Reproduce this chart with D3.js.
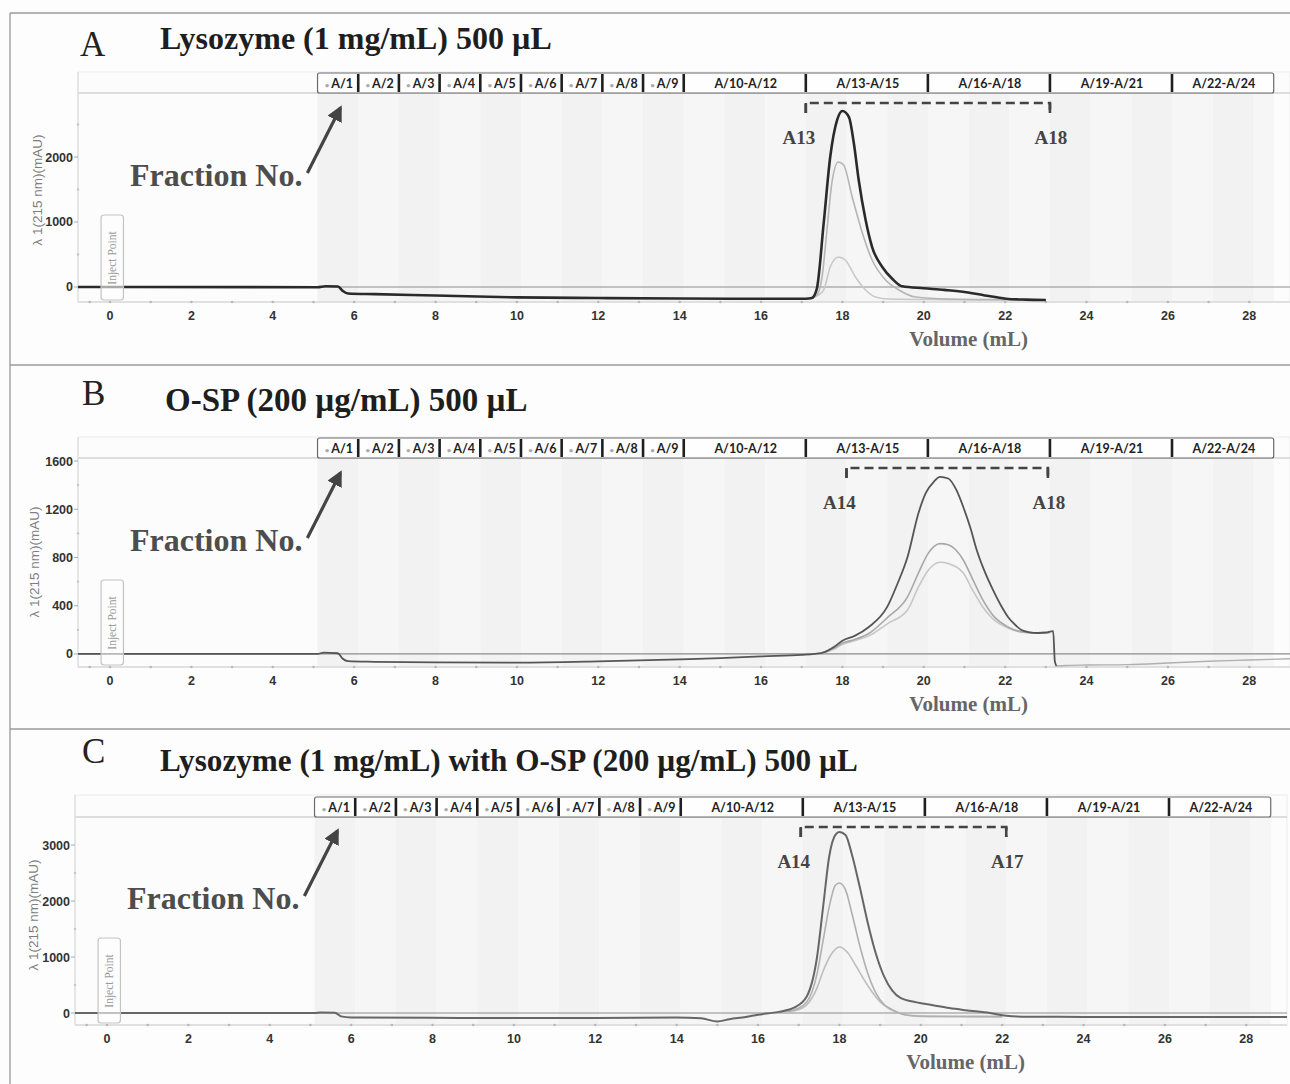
<!DOCTYPE html>
<html><head><meta charset="utf-8">
<script src="https://cdn.jsdelivr.net/npm/d3@7"></script>
<style>body{margin:0;background:#fff}svg{display:block}</style>
</head><body><svg id="c" width="1290" height="1084"></svg>
<script>
// ---------- DATA ----------
const xTicks = [0, 2, 4, 6, 8, 10, 12, 14, 16, 18, 20, 22, 24, 26, 28];
const xMinor = [-0.5, 1, 3, 5, 7, 9, 11, 13, 15, 17, 19, 21, 23, 25, 27];
const fractionLabels = ["A/1","A/2","A/3","A/4","A/5","A/6","A/7","A/8","A/9",
  "A/10-A/12","A/13-A/15","A/16-A/18","A/19-A/21","A/22-A/24"];
const fractionEdges = [5.1,6.1,7.1,8.1,9.1,10.1,11.1,12.1,13.1,14.1,17.1,20.1,23.1,26.1,28.6];
const tubeEdges = [5.1,6.1,7.1,8.1,9.1,10.1,11.1,12.1,13.1,14.1,15.1,16.1,17.1,18.1,19.1,20.1,21.1,22.1,23.1,24.1,25.1,26.1,27.1,28.1,28.6];

const titleA = "Lysozyme (1 mg/mL) 500 µL";
const titleB = "O-SP (200 µg/mL) 500 µL";
const titleC = "Lysozyme (1 mg/mL) with O-SP (200 µg/mL) 500 µL";
const yAxisLabel = "λ 1(215 nm)(mAU)";
const xAxisLabel = "Volume (mL)";
const fractionNote = "Fraction No.";
const injectLabel = "Inject Point";

const yTicksA = [0, 1000, 2000], yMinorA = [500, 1500, 2500];
const yTicksB = [0, 400, 800, 1200, 1600], yMinorB = [200, 600, 1000, 1400];
const yTicksC = [0, 1000, 2000, 3000], yMinorC = [500, 1500, 2500];

const bracketA = {from: 17.1, to: 23.1, left: "A13", right: "A18"};
const bracketB = {from: 18.1, to: 23.05, left: "A14", right: "A18"};
const bracketC = {from: 17.05, to: 22.1, left: "A14", right: "A17"};

// Panel A traces [volume mL, mAU]
const aDark = [[-0.79,0],[0.3,0],[5.1,-3],[5.3,12],[5.6,8],[5.72,-60],[5.85,-100],[6.5,-110],[8,-130],[10,-160],[12,-170],[14,-178],[16,-182],[17.1,-180],[17.25,-170],[17.37,-30],[17.54,985],[17.7,2000],[17.87,2570],[18.0,2708],[18.16,2615],[18.28,2215],[18.4,1646],[18.57,1030],[18.73,615],[18.98,308],[19.23,123],[19.47,10],[20.0,-20],[20.5,-45],[21.04,-80],[21.5,-130],[22.02,-180],[22.5,-195],[23.0,-200]];
const aMid = [[17.2,-178],[17.38,-120],[17.5,154],[17.62,877],[17.74,1600],[17.9,1923],[18.03,1877],[18.24,1385],[18.49,831],[18.73,415],[19.06,108],[19.39,-46],[19.8,-154],[20.63,-185],[22,-195],[23,-200]];
const aLight = [[17.2,-180],[17.4,-130],[17.54,-46],[17.7,308],[17.9,462],[18.07,415],[18.32,154],[18.57,-46],[18.81,-154],[19.14,-185],[20.5,-195],[22,-200]];

// Panel B traces
const bDark = [[-0.79,0],[5.1,0],[5.25,12],[5.6,6],[5.72,-40],[5.85,-60],[6.5,-65],[8,-70],[10,-72],[12,-62],[14,-45],[15,-35],[16,-20],[17,-8],[17.5,10],[17.8,60],[18.0,110],[18.3,150],[18.65,224],[19.1,390],[19.35,580],[19.6,804],[19.87,1169],[20.05,1335],[20.25,1430],[20.4,1468],[20.6,1455],[20.8,1360],[20.97,1219],[21.15,1040],[21.3,862],[21.5,680],[21.7,531],[21.9,400],[22.07,307],[22.25,240],[22.4,199],[22.6,180],[22.8,174],[23.0,178],[23.18,190],[23.22,-60],[23.26,-100]];
const bMid = [[17.5,10],[17.8,50],[18.0,90],[18.3,120],[18.65,170],[19.1,300],[19.6,473],[19.87,672],[20.1,830],[20.4,915],[20.6,905],[20.97,779],[21.2,620],[21.45,448],[21.7,320],[22.07,224],[22.4,185],[22.8,174],[23.1,178]];
const bLight = [[17.5,5],[17.8,40],[18.0,80],[18.3,110],[18.65,150],[19.1,250],[19.6,365],[19.87,556],[20.1,690],[20.4,760],[20.6,750],[20.97,672],[21.2,530],[21.45,390],[21.7,290],[22.07,216],[22.4,180],[22.8,172],[23.1,176]];
const bTail = [[23.26,-100],[23.5,-95],[24,-92],[25,-88],[26,-75],[27,-60],[28,-50],[29,-40]];

// Panel C traces
const cDark = [[-0.79,0],[5.1,0],[5.25,10],[5.6,5],[5.75,-60],[6,-80],[8,-85],[10,-90],[12,-90],[14,-80],[14.6,-95],[15.0,-150],[15.3,-110],[15.7,-70],[16.0,-30],[16.5,20],[16.9,100],[17.2,300],[17.45,1000],[17.6,1900],[17.75,2800],[17.9,3180],[18.0,3232],[18.15,3180],[18.3,2850],[18.5,2250],[18.7,1600],[18.9,1050],[19.1,650],[19.3,400],[19.5,270],[19.9,190],[20.3,140],[20.7,89],[21.1,50],[21.7,0],[22.1,-50],[22.5,-65],[24,-70],[26,-72],[29,-70]];
const cMid = [[16.5,15],[16.9,60],[17.2,200],[17.45,700],[17.6,1300],[17.75,1900],[17.9,2280],[18.0,2321],[18.15,2200],[18.3,1800],[18.5,1200],[18.7,700],[18.9,350],[19.1,150],[19.4,20],[19.7,-40],[20.2,-60],[22,-65]];
const cLight = [[16.5,10],[16.9,40],[17.2,150],[17.45,450],[17.6,750],[17.8,1050],[18.0,1179],[18.2,1080],[18.4,850],[18.6,600],[18.8,380],[19.0,200],[19.3,60],[19.6,-30],[20.0,-60],[22,-65]];

// ---------- LAYOUT ----------
const panels = [
  {letter:"A", title:titleA, titleSize:32, plotLeft:78, plotRight:1290, plotTop:72, barTop:73, barBottom:93, axisY:302,
   yDomain:[-231,3308], yTicks:yTicksA, yMinor:yMinorA, bracket:bracketA,
   letterX:80, letterY:56, titleX:160, titleY:49, yLabelX:37, yLabelY:190,
   series:[{d:aLight,c:"#c9c9c9",w:1.6},{d:aMid,c:"#b5b5b5",w:1.6},{d:aDark,c:"#2a2a2a",w:2.6}]},
  {letter:"B", title:titleB, titleSize:33, plotLeft:78, plotRight:1290, plotTop:437, barTop:438, barBottom:458, axisY:667,
   yDomain:[-108,1799], yTicks:yTicksB, yMinor:yMinorB, bracket:bracketB,
   letterX:82, letterY:405, titleX:165, titleY:411, yLabelX:34, yLabelY:562,
   series:[{d:bTail,c:"#b0b0b0",w:1.4},{d:bLight,c:"#c6c6c6",w:1.6},{d:bMid,c:"#a8a8a8",w:1.6},{d:bDark,c:"#555",w:1.8}]},
  {letter:"C", title:titleC, titleSize:31.2, plotLeft:75, plotRight:1287, plotTop:795, barTop:797, barBottom:817, axisY:1025,
   yDomain:[-214,3893], yTicks:yTicksC, yMinor:yMinorC, bracket:bracketC,
   letterX:82, letterY:763, titleX:160, titleY:771, yLabelX:33, yLabelY:915,
   series:[{d:cLight,c:"#bdbdbd",w:1.6},{d:cMid,c:"#b0b0b0",w:1.6},{d:cDark,c:"#666",w:2}]}
];

const svg = d3.select("#c");
svg.append("rect").attr("width",1290).attr("height",1084).attr("fill","#fdfdfd");

// panel frames
const frame = svg.append("g").attr("stroke","#9a9a9a").attr("stroke-width",1.3);
frame.append("line").attr("x1",10).attr("x2",1290).attr("y1",13).attr("y2",13);
frame.append("line").attr("x1",10).attr("x2",10).attr("y1",13).attr("y2",1084);
frame.append("line").attr("x1",10).attr("x2",1290).attr("y1",365).attr("y2",365);
frame.append("line").attr("x1",10).attr("x2",1290).attr("y1",729).attr("y2",729);

const serif = "'Liberation Serif','Times New Roman',serif";
const sans = "'Liberation Sans',Arial,sans-serif";
const barFont = "Lato,'Liberation Sans',sans-serif";

const defs = svg.append("defs");
defs.append("marker").attr("id","ah").attr("viewBox","0 0 10 10").attr("refX",8).attr("refY",5)
  .attr("markerWidth",5).attr("markerHeight",5).attr("orient","auto")
  .append("path").attr("d","M0,0 L10,5 L0,10 z").attr("fill","#444");

panels.forEach((p, i) => {
  const x = d3.scaleLinear().domain([-0.787, 29.0]).range([p.plotLeft, p.plotLeft + 1212]);
  const y = d3.scaleLinear().domain(p.yDomain).range([p.axisY, p.plotTop]);
  const g = svg.append("g");

  const clipId = "clip" + i;
  defs.append("clipPath").attr("id", clipId).append("rect")
    .attr("x", p.plotLeft).attr("y", p.barBottom).attr("width", p.plotRight - p.plotLeft).attr("height", p.axisY - p.barBottom + 6);

  // plot area
  g.append("rect").attr("x", p.plotLeft).attr("y", p.plotTop).attr("width", p.plotRight - p.plotLeft)
    .attr("height", p.axisY - p.plotTop).attr("fill", "#fcfcfc").attr("stroke", "#ececec");
  // fraction tube shading
  g.selectAll("rect.tube").data(d3.pairs(tubeEdges)).join("rect").attr("class","tube")
    .attr("x", d => x(d[0])).attr("width", d => x(d[1]) - x(d[0]))
    .attr("y", p.barBottom).attr("height", p.axisY - p.barBottom)
    .attr("fill", (d, k) => k % 2 ? "#f6f6f6" : "#f2f2f2");
  // line under fraction bar
  g.append("line").attr("x1", p.plotLeft).attr("x2", p.plotRight).attr("y1", p.barBottom).attr("y2", p.barBottom)
    .attr("stroke", "#bdbdbd").attr("stroke-width", 1.2);

  // x axis (dotted baseline)
  g.append("line").attr("x1", p.plotLeft).attr("x2", p.plotRight).attr("y1", p.axisY).attr("y2", p.axisY)
    .attr("stroke", "#e0e0e0").attr("stroke-width", 2);
  g.selectAll("circle.xt").data(xTicks.concat(xMinor)).join("circle").attr("class","xt")
    .attr("cx", d => x(d)).attr("cy", p.axisY).attr("r", 1.3).attr("fill", "#b8b8b8");
  g.selectAll("text.xl").data(xTicks).join("text").attr("class","xl")
    .attr("x", d => x(d)).attr("y", p.axisY + 18).attr("text-anchor","middle")
    .attr("font-family", sans).attr("font-weight","bold").attr("font-size", 12.5).attr("fill","#333")
    .text(d => d3.format("d")(d));

  // y axis
  g.append("line").attr("x1", p.plotLeft).attr("x2", p.plotLeft).attr("y1", p.plotTop).attr("y2", p.axisY)
    .attr("stroke", "#e2e2e2").attr("stroke-width", 1.5);
  g.selectAll("line.yt").data(p.yTicks).join("line").attr("class","yt")
    .attr("x1", p.plotLeft - 4).attr("x2", p.plotLeft).attr("y1", d => y(d)).attr("y2", d => y(d))
    .attr("stroke", "#aaa");
  g.selectAll("circle.ym").data(p.yMinor).join("circle").attr("class","ym")
    .attr("cx", p.plotLeft).attr("cy", d => y(d)).attr("r", 1.2).attr("fill", "#c4c4c4");
  g.selectAll("text.yl").data(p.yTicks).join("text").attr("class","yl")
    .attr("x", p.plotLeft - 5).attr("y", d => y(d) + 4.5).attr("text-anchor","end")
    .attr("font-family", sans).attr("font-weight","bold").attr("font-size", 12.5).attr("fill","#333")
    .text(d => d);
  g.append("text").attr("transform", `translate(${p.yLabelX},${p.yLabelY}) rotate(-90)`)
    .attr("text-anchor","middle").attr("dominant-baseline","central").attr("font-family", sans)
    .attr("font-size", 13.5).attr("fill","#7e7e7e")
    .text(yAxisLabel);

  // zero line
  g.append("line").attr("x1", p.plotLeft).attr("x2", p.plotRight).attr("y1", y(0)).attr("y2", y(0))
    .attr("stroke", "#8c8c8c").attr("stroke-width", 1.2);

  // traces
  const line = d3.line().x(d => x(d[0])).y(d => y(d[1])).curve(d3.curveMonotoneX);
  const tg = g.append("g").attr("clip-path", `url(#${clipId})`);
  p.series.forEach(s => {
    tg.append("path").attr("d", line(s.d)).attr("fill","none").attr("stroke", s.c)
      .attr("stroke-width", s.w).attr("stroke-linejoin","round");
  });

  // inject point box
  const ix0 = x(-0.22), ix1 = x(0.33);
  g.append("rect").attr("x", ix0).attr("y", p.axisY - 87).attr("width", ix1 - ix0).attr("height", 85)
    .attr("rx", 3).attr("fill", "#fdfdfd").attr("fill-opacity", 0.6).attr("stroke", "#c4c4c4").attr("stroke-width", 1.2);
  g.append("text").attr("transform", `translate(${(ix0 + ix1) / 2 + 4},${p.axisY - 44}) rotate(-90)`)
    .attr("text-anchor","middle").attr("font-family", serif).attr("font-size", 11.5).attr("fill","#9a9a9a")
    .text(injectLabel);

  // fraction bar
  const bx0 = x(fractionEdges[0]), bx1 = x(fractionEdges[fractionEdges.length - 1]);
  g.append("rect").attr("x", bx0).attr("y", p.barTop).attr("width", bx1 - bx0).attr("height", p.barBottom - p.barTop)
    .attr("rx", 2).attr("fill", "#fefefe").attr("stroke", "#6a6a6a").attr("stroke-width", 1.2);
  g.selectAll("line.sep").data(fractionEdges.slice(1, -1)).join("line").attr("class","sep")
    .attr("x1", d => x(d)).attr("x2", d => x(d)).attr("y1", p.barTop + 1).attr("y2", p.barBottom - 1)
    .attr("stroke", "#1f1f1f").attr("stroke-width", 2.6);
  const fl = g.selectAll("text.fl").data(d3.pairs(fractionEdges)).join("text").attr("class","fl")
    .attr("x", d => (x(d[0]) + x(d[1])) / 2 + 1).attr("y", (p.barTop + p.barBottom) / 2 + 4.5)
    .attr("text-anchor","middle").attr("font-family", barFont).attr("font-weight","bold")
    .attr("font-size", 12.5).attr("fill","#222");
  fl.each(function(d, k) {
    const t = d3.select(this);
    if (k < 9) t.append("tspan").attr("fill","#aaa").attr("font-size", 8).text("• ");
    t.append("tspan").text(fractionLabels[k]);
  });

  // bracket
  const b = p.bracket, byy = p.barBottom + 10;
  g.append("path").attr("d", `M${x(b.from)},${byy + 10}V${byy}H${x(b.to)}V${byy + 10}`)
    .attr("fill","none").attr("stroke","#444").attr("stroke-width", 2.6).attr("stroke-dasharray","9,5");
  g.append("line").attr("x1", x(b.from)).attr("x2", x(b.from)).attr("y1", byy).attr("y2", byy + 10).attr("stroke","#444").attr("stroke-width",2.6);
  g.append("line").attr("x1", x(b.to)).attr("x2", x(b.to)).attr("y1", byy).attr("y2", byy + 10).attr("stroke","#444").attr("stroke-width",2.6);
  [[b.from, b.left, -7], [b.to, b.right, 1]].forEach(([v, t, off]) => {
    g.append("text").attr("x", x(v) + off).attr("y", byy + 41).attr("text-anchor","middle")
      .attr("font-family", serif).attr("font-weight","bold").attr("font-size", 19).attr("fill","#444").text(t);
  });

  // Fraction No. note with arrow
  g.append("text").attr("x", p.plotLeft + 52).attr("y", p.plotTop + 114).attr("font-family", serif)
    .attr("font-weight","bold").attr("font-size", 32).attr("fill","#4d4d4d").text(fractionNote);
  g.append("line").attr("x1", x(4.85)).attr("y1", p.plotTop + 101).attr("x2", x(5.66)).attr("y2", p.plotTop + 36)
    .attr("stroke","#444").attr("stroke-width", 3.2).attr("marker-end","url(#ah)");

  // axis title
  g.append("text").attr("x", x(21.1)).attr("y", p.axisY + 44).attr("text-anchor","middle")
    .attr("font-family", serif).attr("font-weight","bold").attr("font-size", 21).attr("fill","#666").text(xAxisLabel);

  // panel letter and title
  g.append("text").attr("x", p.letterX).attr("y", p.letterY).attr("font-family", serif).attr("font-size", 35)
    .attr("fill","#222").text(p.letter);
  g.append("text").attr("x", p.titleX).attr("y", p.titleY).attr("font-family", serif).attr("font-weight","bold")
    .attr("font-size", p.titleSize).attr("fill","#1e1e1e").text(p.title);
});
</script></body></html>
